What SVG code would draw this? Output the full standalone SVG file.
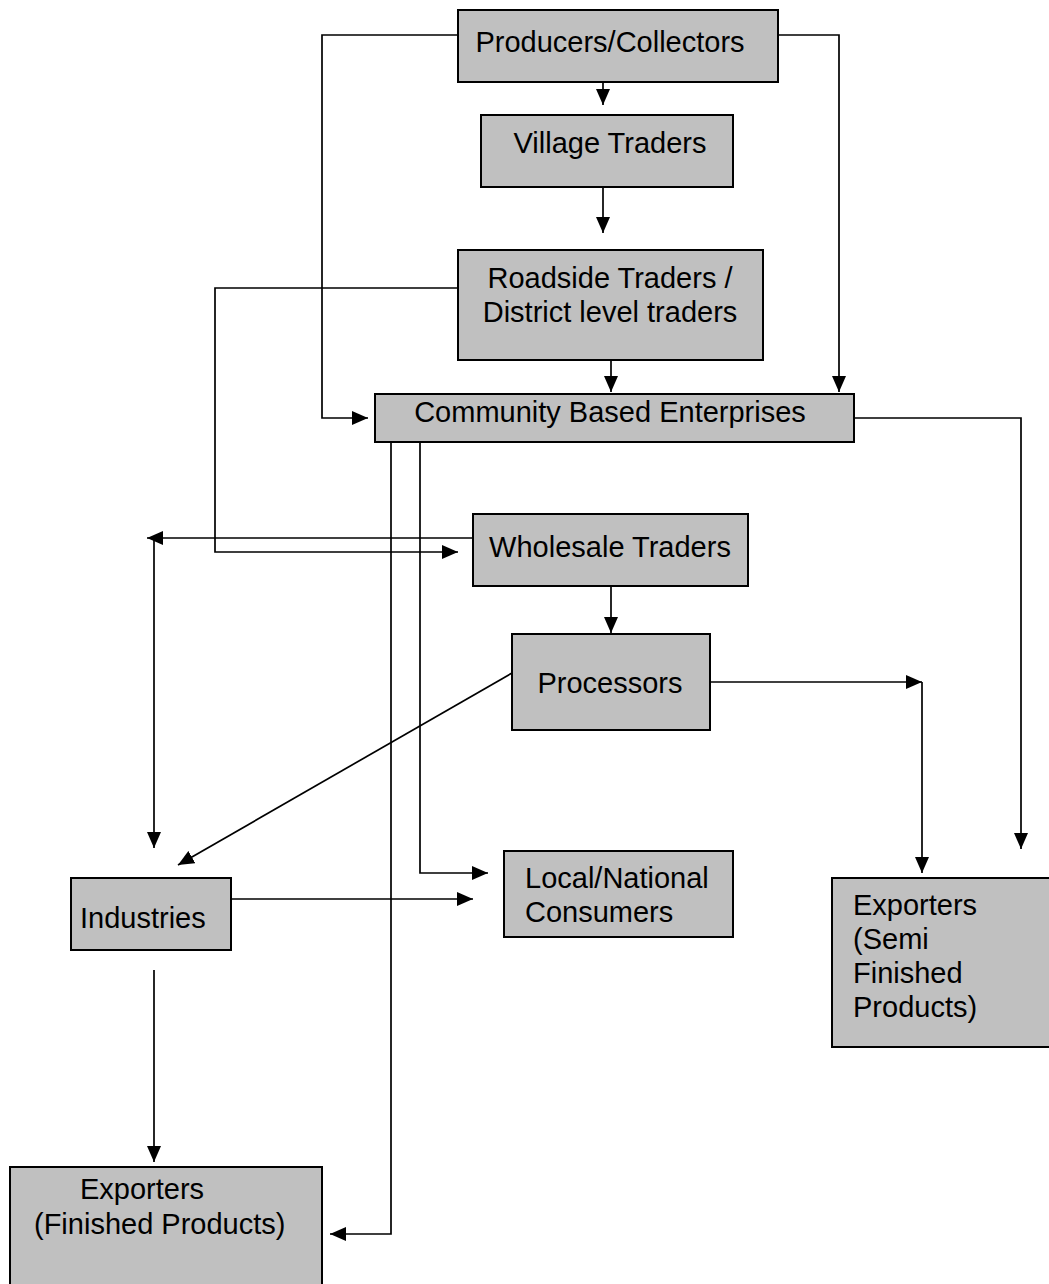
<svg xmlns="http://www.w3.org/2000/svg" width="1049" height="1284" viewBox="0 0 1049 1284">
<style>
.box{fill:#c0c0c0;stroke:#000;stroke-width:2}
.t{font-family:"Liberation Sans",Arial,sans-serif;font-size:29px;fill:#000}
.c{text-anchor:middle}
.ln{fill:none;stroke:#000;stroke-width:1.7}
.a{marker-end:url(#arr)}
</style>
<defs>
<marker id="arr" markerUnits="userSpaceOnUse" markerWidth="16" markerHeight="14" refX="16" refY="7" orient="auto">
<path d="M0,0 L16,7 L0,14 z" fill="#000"/>
</marker>
</defs>
<rect width="1049" height="1284" fill="#fff"/>
<g id="connectors">
<path class="ln a" d="M603,82 V105"/>
<path class="ln a" d="M603,187 V233"/>
<path class="ln a" d="M458,35 H322 V418 H368"/>
<path class="ln a" d="M778,35 H839 V392"/>
<path class="ln a" d="M611,336 V392"/>
<path class="ln a" d="M458,288 H215 V552 H458"/>
<path class="ln a" d="M473,538 H147"/>
<path class="ln a" d="M154,538 V848"/>
<path class="ln a" d="M391,442 V1234 H330"/>
<path class="ln a" d="M420,442 V873 H488"/>
<path class="ln a" d="M231,899 H473"/>
<path class="ln a" d="M154,970 V1162"/>
<path class="ln a" d="M512,673 L178,865"/>
<path class="ln a" d="M611,586 V633"/>
<path class="ln a" d="M710,682 H922"/>
<path class="ln a" d="M922,682 V873"/>
<path class="ln a" d="M854,418 H1021 V849"/>
</g>
<g id="producers">
<rect class="box" x="458" y="10" width="320" height="72"/>
<text class="t c" x="610" y="52">Producers/Collectors</text>
</g>
<g id="village">
<rect class="box" x="481" y="115" width="252" height="72"/>
<text class="t c" x="610" y="153">Village Traders</text>
</g>
<g id="roadside">
<rect class="box" x="458" y="250" width="305" height="110"/>
<text class="t c" x="610" y="288">Roadside Traders /</text>
<text class="t c" x="610" y="322">District level traders</text>
</g>
<g id="cbe">
<rect class="box" x="375" y="394" width="479" height="48"/>
<text class="t c" x="610" y="422">Community Based Enterprises</text>
</g>
<g id="wholesale">
<rect class="box" x="473" y="514" width="275" height="72"/>
<text class="t c" x="610" y="557">Wholesale Traders</text>
</g>
<g id="processors">
<rect class="box" x="512" y="634" width="198" height="96"/>
<text class="t c" x="610" y="693">Processors</text>
</g>
<g id="industries">
<rect class="box" x="71" y="878" width="160" height="72"/>
<text class="t" x="80" y="928">Industries</text>
</g>
<g id="consumers">
<rect class="box" x="504" y="851" width="229" height="86"/>
<text class="t" x="525" y="888">Local/National</text>
<text class="t" x="525" y="922">Consumers</text>
</g>
<g id="exporters-semi">
<rect class="box" x="832" y="878" width="220" height="169"/>
<text class="t" x="853" y="915">Exporters</text>
<text class="t" x="853" y="949">(Semi</text>
<text class="t" x="853" y="983">Finished</text>
<text class="t" x="853" y="1017">Products)</text>
</g>
<g id="exporters-finished">
<rect class="box" x="10" y="1167" width="312" height="130"/>
<text class="t" x="80" y="1199">Exporters</text>
<text class="t" x="34" y="1234">(Finished Products)</text>
</g>
</svg>
